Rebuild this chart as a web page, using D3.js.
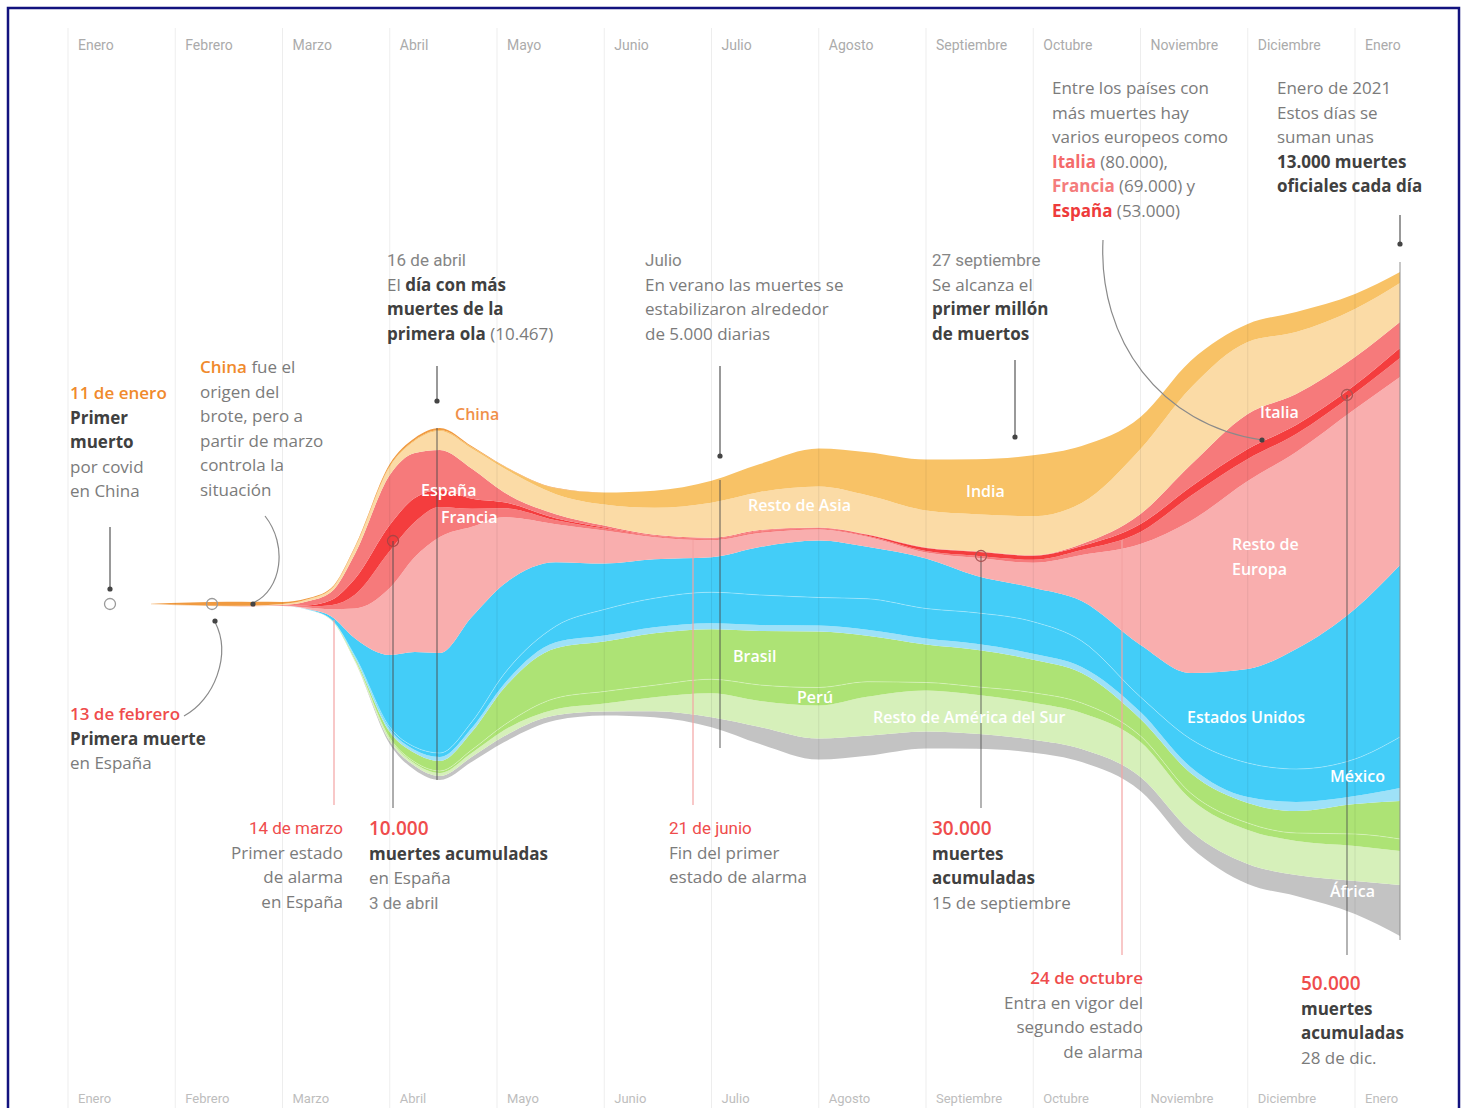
<!DOCTYPE html>
<html><head><meta charset="utf-8">
<script src="https://cdn.jsdelivr.net/npm/d3@7"></script>
<style>
html,body{margin:0;padding:0;background:#fff;}
svg{display:block;}
.g{fill:#7b7b7b;font-weight:400;}
.b{fill:#404040;font-weight:700;}
.r{fill:#ef4c4c;font-weight:600;}
.big{font-size:19px;}
.o{fill:#f08a2c;font-weight:600;}
.gc{fill:#858585;font-family:Roboto,sans-serif;font-weight:400;}
.rc{fill:#ef4c4c;font-family:Roboto,sans-serif;font-weight:400;}
.it{fill:#f46a6a;font-weight:700;}
.fr{fill:#f47c7c;font-weight:700;}
.es{fill:#ee3b3b;font-weight:700;}
</style>
</head><body>
<script>
// ---------------- DATA (daily deaths, 7-day smoothed) ----------------
const dates = ["2020-01-25","2020-02-05","2020-02-15","2020-03-01","2020-03-08","2020-03-15","2020-03-22","2020-04-01","2020-04-08","2020-04-15","2020-04-24","2020-05-03","2020-05-18","2020-06-01","2020-06-15","2020-07-01","2020-07-15","2020-08-01","2020-08-15","2020-09-01","2020-09-15","2020-10-01","2020-10-15","2020-11-01","2020-11-15","2020-12-01","2020-12-15","2021-01-01","2021-01-14"];
const china       = [10,60,90,40,20,20,20,40,40,40,20,10,6,0,0,0,0,0,0,0,0,0,0,0,0,0,0,0,0];
const india       = [0,0,0,0,0,0,10,20,20,20,30,40,120,240,340,440,560,760,860,1020,1100,1220,1140,640,540,360,400,300,220];
const restoAsia   = [0,0,0,20,40,60,120,160,240,380,400,480,400,420,540,700,760,820,780,740,740,780,820,1300,1540,1440,1240,960,780];
const italia      = [0,0,0,20,80,160,500,1000,900,800,600,200,80,40,20,20,20,10,10,10,10,10,40,200,440,700,620,560,520];
const espana      = [0,0,0,0,20,100,320,520,480,340,200,120,40,20,10,10,10,10,20,60,80,80,80,160,180,200,180,160,200];
const francia     = [0,0,0,0,20,80,280,740,700,600,360,180,80,40,20,20,30,20,20,30,40,60,100,240,500,440,360,320,380];
const restoEuropa = [0,0,0,0,30,140,600,1340,1900,2320,1800,1340,760,660,440,340,280,220,200,120,360,500,920,2020,3040,3760,3940,4000,3760];
const eeuu        = [0,0,0,0,10,60,360,1440,1900,2000,2100,1800,1280,920,780,700,960,1140,1040,1000,740,680,800,1040,1320,1880,2400,3000,3440];
const mexico      = [0,0,0,0,0,0,20,40,60,80,120,200,320,520,580,620,600,560,620,600,620,640,520,300,560,680,660,740,1020];
const restoAm     = [0,0,0,0,0,0,20,60,60,80,80,80,120,120,120,120,120,120,120,120,120,120,120,140,120,120,180,160,260];
const brasil      = [0,0,0,0,0,10,40,120,180,200,360,740,1000,1000,1040,1000,1080,1120,920,760,740,660,600,340,400,400,440,600,760];
const peru        = [0,0,0,0,0,0,10,20,30,40,60,100,220,240,240,280,320,360,300,160,160,200,200,120,120,140,160,240,240];
const restoSur    = [0,0,0,0,0,0,10,40,50,60,80,120,120,160,280,480,520,660,780,820,780,740,720,700,640,680,680,700,680];
const africa      = [0,0,0,0,0,0,10,60,80,80,100,120,100,80,120,200,340,420,400,340,300,260,260,280,320,400,420,660,1020];
const monthLabels = ["Enero","Febrero","Marzo","Abril","Mayo","Junio","Julio","Agosto","Septiembre","Octubre","Noviembre","Diciembre","Enero"];

// ---------------- SETUP ----------------
const W = 1464, H = 1108;
const svg = d3.select("body").append("svg").attr("width", W).attr("height", H)
  .style("font-family", "'Open Sans', sans-serif");
svg.append("rect").attr("width", W).attr("height", H).attr("fill", "#fff");

const parse = d3.timeParse("%Y-%m-%d");
// position of a date in "months since Jan 2020" (months equally spaced as in the original)
function monthPos(d) {
  const m = (d.getFullYear() - 2020) * 12 + d.getMonth();
  const dim = new Date(d.getFullYear(), d.getMonth() + 1, 0).getDate();
  return m + (d.getDate() - 1) / dim;
}
const x = d3.scaleLinear().domain([0, 12]).range([68, 1355]);
const y = d3.scaleLinear().domain([-8000, 8000]).range([1004, 204]);

const seriesDefs = [
  {key: "africa", vals: africa, color: "#c3c3c3"},
  {key: "restoSur", vals: restoSur, color: "#d6f0ba"},
  {key: "peru", vals: peru, color: "#ade375"},
  {key: "brasil", vals: brasil, color: "#ade375"},
  {key: "restoAm", vals: restoAm, color: "#9ee1f8"},
  {key: "mexico", vals: mexico, color: "#43cdf8"},
  {key: "eeuu", vals: eeuu, color: "#43cdf8"},
  {key: "restoEuropa", vals: restoEuropa, color: "#f9aeae"},
  {key: "francia", vals: francia, color: "#f67a7b"},
  {key: "espana", vals: espana, color: "#f43d3e"},
  {key: "italia", vals: italia, color: "#f67a7b"},
  {key: "restoAsia", vals: restoAsia, color: "#fbdba6"},
  {key: "india", vals: india, color: "#f8c266"},
  {key: "china", vals: china, color: "#f09a40"}
];
const table = dates.map((ds, i) => {
  const row = {date: parse(ds)};
  seriesDefs.forEach(s => row[s.key] = s.vals[i]);
  return row;
});
const stack = d3.stack().keys(seriesDefs.map(s => s.key))
  .order(d3.stackOrderNone).offset(d3.stackOffsetSilhouette);
const layers = stack(table);
const colorOf = Object.fromEntries(seriesDefs.map(s => [s.key, s.color]));

const area = d3.area().curve(d3.curveMonotoneX)
  .x(d => x(monthPos(d.data.date))).y0(d => y(d[0])).y1(d => y(d[1]));
const topLine = d3.line().curve(d3.curveMonotoneX)
  .x(d => x(monthPos(d.data.date))).y(d => y(d[1]));

// border
svg.append("rect").attr("x", 8).attr("y", 8).attr("width", 1451).attr("height", 1130)
  .attr("fill", "none").attr("stroke", "#12127e").attr("stroke-width", 2.5);

// stream
svg.append("g").selectAll("path").data(layers).join("path")
  .attr("d", area).attr("fill", d => colorOf[d.key]);
// faint separators (México / Perú)
svg.append("g").selectAll("path").data(layers.filter(l => l.key === "mexico" || l.key === "peru")).join("path")
  .attr("d", topLine).attr("fill", "none").attr("stroke", "#fff").attr("stroke-opacity", 0.3).attr("stroke-width", 1);

// month grid (drawn over, very light)
const months = d3.range(13);
svg.append("g").selectAll("line").data(months).join("line")
  .attr("x1", d => x(d)).attr("x2", d => x(d)).attr("y1", 28).attr("y2", H)
  .attr("stroke", "#000").attr("stroke-opacity", 0.07).attr("stroke-width", 1);
svg.append("g").selectAll("text").data(monthLabels).join("text")
  .attr("x", (d, i) => x(i) + 10).attr("y", 50).text(d => d)
  .style("font-family", "Roboto, sans-serif").style("font-size", "14px").attr("fill", "#ababab");
svg.append("g").selectAll("text").data(monthLabels).join("text")
  .attr("x", (d, i) => x(i) + 10).attr("y", 1103).text(d => d)
  .style("font-family", "Roboto, sans-serif").style("font-size", "13px").attr("fill", "#bdbdbd");

// ---------------- ANNOTATION LINES ----------------
const ann = svg.append("g");
function vline(xx, y1, y2, color, op) {
  ann.append("line").attr("x1", xx).attr("x2", xx).attr("y1", y1).attr("y2", y2)
    .attr("stroke", color).attr("stroke-width", 1.2).attr("stroke-opacity", op == null ? 1 : op);
}
function dot(cx, cy) { ann.append("circle").attr("cx", cx).attr("cy", cy).attr("r", 2.6).attr("fill", "#444"); }
function ring(cx, cy, c) { ann.append("circle").attr("cx", cx).attr("cy", cy).attr("r", 5.5).attr("fill", "none").attr("stroke", c || "#9a9a9a").attr("stroke-width", 1.3); }

// red alarm-state lines
vline(334, 620, 805, "#f4a3a3");
vline(693, 540, 805, "#f4a3a3");
vline(1122, 540, 955, "#f4a3a3");
// dark marker lines
vline(393, 541, 808, "#4a4a4a", 0.75);
vline(437, 428, 780, "#4a4a4a", 0.75);
vline(720, 480, 748, "#4a4a4a", 0.75);
vline(981, 556, 808, "#4a4a4a", 0.7);
vline(1347, 395, 955, "#4a4a4a", 0.7);
vline(1400, 262, 940, "#8a8a8a", 0.8);
// arrows
vline(110, 527, 588, "#555"); dot(110, 589);
vline(437, 366, 400, "#555"); dot(437, 401);
vline(720, 366, 455, "#555"); dot(720, 456);
vline(1015, 360, 436, "#555"); dot(1015, 437);
vline(1400, 215, 243, "#555"); dot(1400, 244);
// curved leaders
ann.append("path").attr("d", "M265,516 C288,545 282,590 253,603").attr("fill", "none").attr("stroke", "#8a8a8a").attr("stroke-width", 1.2);
dot(253, 604);
ann.append("path").attr("d", "M184,716 C214,700 232,655 215,622").attr("fill", "none").attr("stroke", "#8a8a8a").attr("stroke-width", 1.2);
dot(215, 621);
ann.append("path").attr("d", "M1103,240 C1098,340 1160,425 1262,440").attr("fill", "none").attr("stroke", "#8a8a8a").attr("stroke-width", 1.2);
dot(1262, 440);
// rings
ring(110, 604); ring(212, 604); ring(393, 541, "#a44"); ring(981, 556, "#a55"); ring(1347, 395, "#a55");

// ---------------- TEXT ----------------
const tx = svg.append("g").style("font-size", "17px");
function block(xx, y0, lines, anchor, lh) {
  lh = lh || 24.6;
  lines.forEach((parts, i) => {
    const t = tx.append("text").attr("x", xx).attr("y", y0 + i * lh).attr("text-anchor", anchor || "start");
    (Array.isArray(parts[0]) ? parts : [parts]).forEach(p => {
      t.append("tspan").attr("class", p[1]).text(p[0]);
    });
  });
}
block(70, 399, [["11 de enero", "o"], ["Primer", "b"], ["muerto", "b"], ["por covid", "g"], ["en China", "g"]]);
block(200, 373, [[["China", "o"], [" fue el", "g"]], ["origen del", "g"], ["brote, pero a", "g"], ["partir de marzo", "g"], ["controla la", "g"], ["situación", "g"]]);
block(70, 720, [["13 de febrero", "r"], ["Primera muerte", "b"], ["en España", "g"]]);
block(343, 834, [["14 de marzo", "rc"], ["Primer estado", "g"], ["de alarma", "g"], ["en España", "g"]], "end");
block(369, 835, [["10.000", "r big"], ["muertes acumuladas", "b"], ["en España", "g"], ["3 de abril", "gc"]]);
block(387, 266, [["16 de abril", "gc"], [["El ", "g"], ["día con más", "b"]], ["muertes de la", "b"], [["primera ola", "b"], [" (10.467)", "g"]]]);
block(645, 266, [["Julio", "gc"], ["En verano las muertes se", "g"], ["estabilizaron alrededor", "g"], ["de 5.000 diarias", "g"]]);
block(932, 266, [["27 septiembre", "gc"], ["Se alcanza el", "g"], ["primer millón", "b"], ["de muertos", "b"]]);
block(669, 834, [["21 de junio", "rc"], ["Fin del primer", "g"], ["estado de alarma", "g"]]);
block(932, 835, [["30.000", "r big"], ["muertes", "b"], ["acumuladas", "b"], ["15 de septiembre", "g"]]);
block(1143, 984, [["24 de octubre", "r"], ["Entra en vigor del", "g"], ["segundo estado", "g"], ["de alarma", "g"]], "end");
block(1301, 990, [["50.000", "r big"], ["muertes", "b"], ["acumuladas", "b"], ["28 de dic.", "g"]]);
block(1052, 94, [["Entre los países con", "g"], ["más muertes hay", "g"], ["varios europeos como", "g"],
  [["Italia", "it"], [" (80.000),", "g"]], [["Francia", "fr"], [" (69.000) y", "g"]], [["España", "es"], [" (53.000)", "g"]]]);
block(1277, 94, [["Enero de 2021", "g"], ["Estos días se", "g"], ["suman unas", "g"], ["13.000 muertes", "b"], ["oficiales cada día", "b"]]);

// series labels
const sl = svg.append("g").style("font-size", "16px").style("font-weight", 600).attr("fill", "#fff");
const seriesLabels = [
  ["China", 455, 420, "#f0904a"], ["España", 421, 496], ["Francia", 441, 523], ["Resto de Asia", 748, 511],
  ["India", 966, 497], ["Brasil", 733, 662], ["Perú", 797, 703], ["Resto de América del Sur", 873, 723],
  ["Italia", 1260, 418], ["Resto de", 1232, 550], ["Europa", 1232, 575], ["Estados Unidos", 1187, 723],
  ["México", 1330, 782], ["África", 1330, 897]
];
seriesLabels.forEach(l => {
  sl.append("text").attr("x", l[1]).attr("y", l[2]).text(l[0]).attr("fill", l[3] || "#fff");
});
</script>
</body></html>
